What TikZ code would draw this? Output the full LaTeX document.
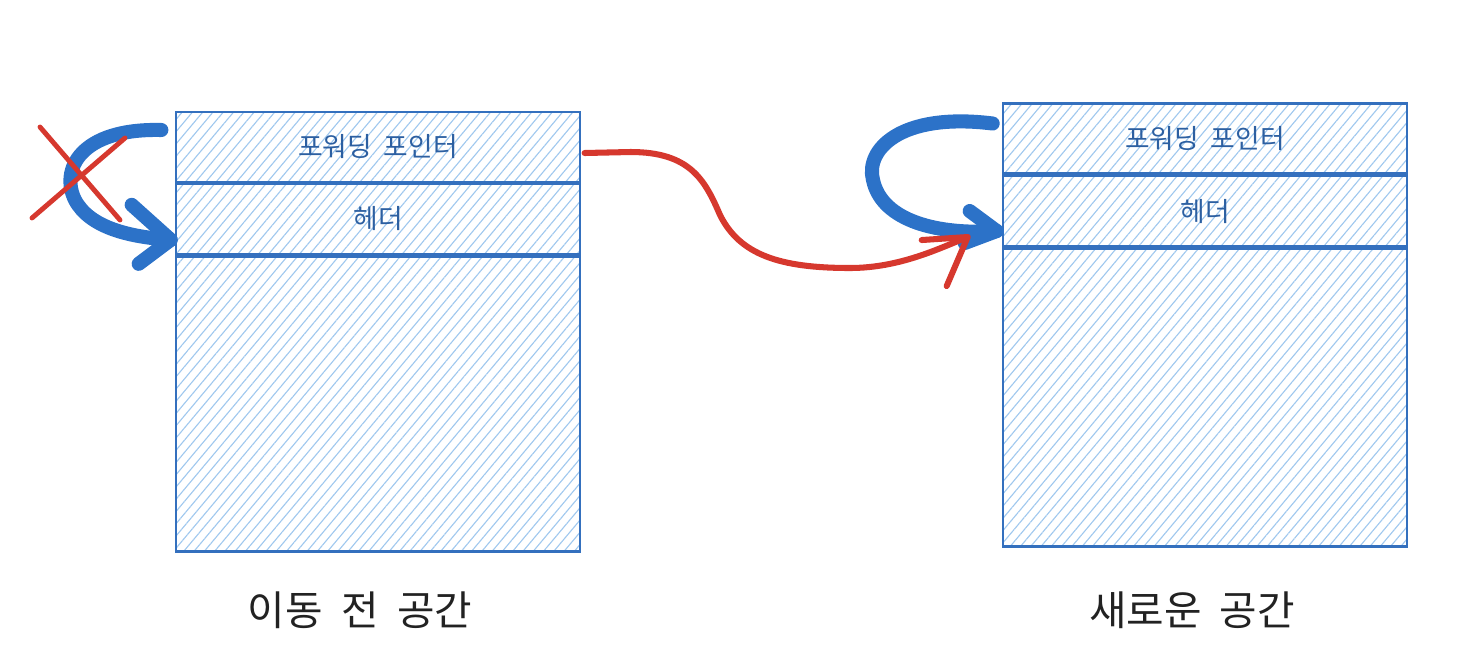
\documentclass[tikz,border=0pt]{standalone}
\usepackage{fontspec}
\newfontfamily\krfont[WordSpace=2]{Noto Sans CJK KR}
\usetikzlibrary{positioning,calc,patterns.meta}
\definecolor{boxblue}{RGB}{52,112,190}
\definecolor{hatchblue}{RGB}{160,200,238}
\definecolor{ptrblue}{RGB}{44,114,200}
\definecolor{movered}{RGB}{214,56,46}
\definecolor{labelgray}{RGB}{34,34,34}
\tikzset{
  cell/.style     = {draw=boxblue,line width=1.8pt,minimum width=10.1cm,inner sep=0pt,
                     pattern={Lines[angle=50,distance=5.6pt,line width=0.8pt]},
                     pattern color=hatchblue,text=boxblue!85!black,
                     font=\krfont\fontsize{19}{22}\selectfont},
  title/.style    = {font=\krfont\fontsize{29}{34}\selectfont,text=labelgray},
  ptrline/.style  = {draw=ptrblue,line width=10pt,line cap=round,line join=round},
  moveline/.style = {draw=movered,line width=4.3pt,line cap=round,line join=round},
  crossline/.style= {draw=movered,line width=3.5pt,line cap=round},
}
\begin{document}
\begin{tikzpicture}[x=0.025cm,y=-0.025cm]
  \useasboundingbox (0,0) rectangle (1476,660);
  \foreach \id/\cx/\cy/\bh in {A/378/147/295, B/1205/138.5/298}{
    \node[cell,minimum height=70*0.025cm] (fwd\id) at (\cx,\cy) {포워딩 포인터};
    \node[cell,minimum height=70*0.025cm,below=0pt of fwd\id] (hdr\id) {헤더};
    \node[cell,minimum height=\bh*0.025cm,below=0pt of hdr\id] (body\id) {};
  }
  \node[title] (capA) at (360,610) {이동 전 공간};
  \node[title] (capB) at (1192,610) {새로운 공간};

  % old self pointer, crossed out
  \coordinate (ptrAS) at ($(fwdA.west)+(-14,-17)$);
  \coordinate (ptrAT) at ($(hdrA.west)+(-4,21)$);
  \draw[ptrline] (ptrAS) .. controls (80,128) and (60,170) .. (75,200)
    .. controls (90,228) and (130,237) .. (ptrAT);
  \draw[ptrline] ($(ptrAT)+(-39,-35)$) -- (ptrAT) -- ++(-32,24);
  \draw[crossline] (40,127) -- (120,220) (32,218) -- (125,138);

  % new self pointer
  \coordinate (ptrBS) at ($(fwdB.west)+(-9,-15)$);
  \coordinate (ptrBT) at ($(hdrB.west)+(-5,20)$);
  \draw[ptrline] (ptrBS) .. controls (900,112) and (865,150) .. (873,180)
    .. controls (882,222) and (940,235) .. (ptrBT);
  \draw[ptrline] ($(ptrBT)+(-27,-20)$) -- (ptrBT) -- ++(-32,12);

  % forwarding move
  \coordinate (moveS) at ($(fwdA.east)+(4,6)$);
  \coordinate (moveT) at ($(hdrB.west)+(-34,26)$);
  \draw[moveline] (moveS) -- ++(46,-1) .. controls (690,152) and (705,180) .. (720,215)
    .. controls (740,255) and (780,268) .. (850,268)
    .. controls (900,268) and (940,248) .. (moveT);
  \draw[moveline] ($(moveT)+(-46,3)$) -- (moveT) -- ++(-21,49);
\end{tikzpicture}
\end{document}
